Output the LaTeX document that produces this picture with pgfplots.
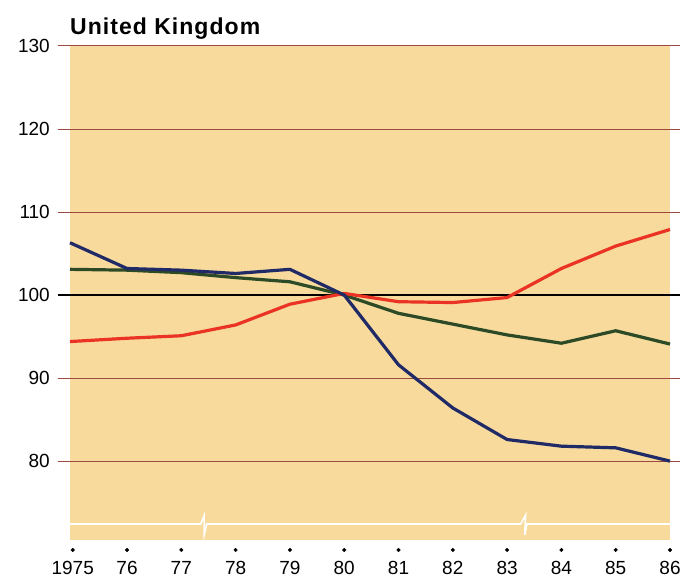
\documentclass[border=0pt]{standalone}
\usepackage{pgfplots}
\pgfplotsset{compat=1.18}
\usepackage{fontspec}
\setmainfont{Liberation Sans}
\definecolor{bg}{HTML}{F7DA9C}
\definecolor{gridc}{HTML}{9A4A40}
\definecolor{ukred}{HTML}{EA3323}
\definecolor{uknavy}{HTML}{1F2A66}
\definecolor{ukgreen}{HTML}{2C4A26}
\begin{document}
\begin{tikzpicture}
\begin{axis}[
 scale only axis, width=600pt, height=494pt,
 xmin=1974.95, xmax=1986, ymin=70.5, ymax=130,
 axis background/.style={fill=bg},
 axis line style={draw=none},
 major tick length=0pt,
 xtick={1975,1976,1977,1978,1979,1980,1981,1982,1983,1984,1985,1986},
 xticklabels={1975,76,77,78,79,80,81,82,83,84,85,86},
 ytick={80,90,100,110,120,130},
 tick label style={font=\fontsize{19}{22}\selectfont, inner sep=0pt},
 yticklabel style={xshift=-20pt},
 xticklabel style={yshift=-21pt},
 /pgf/number format/assume math mode=true,
 clip=false,
]
\pgfplotsinvokeforeach{80,90,110,120,130}{
  \draw[gridc, line width=1pt] ([xshift=-12pt]axis cs:1974.95,#1) -- ([xshift=10pt]axis cs:1986,#1);
}
\draw[black, line width=1.4pt] ([xshift=-12pt]axis cs:1974.95,100) -- ([xshift=10pt]axis cs:1986,100);
% white broken baseline
\draw[white, line width=1.6pt] (axis cs:1974.95,72.43) -- ([xshift=-4pt]axis cs:1977.43,72.43) -- ++(3.5pt,8.5pt) -- ++(0pt,-19.5pt) -- ++(2.5pt,11pt) -- ([xshift=-6pt]axis cs:1983.36,72.43) -- ++(5pt,9pt) -- ++(-1pt,-20pt) -- ++(2.5pt,11pt) -- (axis cs:1986,72.43);
% tick dots
\addplot[only marks, mark=*, mark size=1.8pt, black] coordinates {(1975,69.3) (1976,69.3) (1977,69.3) (1978,69.3) (1979,69.3) (1980,69.3) (1981,69.3) (1982,69.3) (1983,69.3) (1984,69.3) (1985,69.3) (1986,69.3)};
% green
\addplot[ukgreen, line width=3.2pt, line join=round] coordinates {(1974.95,103.1) (1976,103.0) (1977,102.7) (1978,102.1) (1979,101.6) (1980,100.0) (1981,97.8) (1982,96.5) (1983,95.2) (1984,94.2) (1985,95.7) (1986,94.1)};
% red
\addplot[ukred, line width=3.2pt, line join=round] coordinates {(1974.95,94.4) (1976,94.8) (1977,95.1) (1978,96.4) (1979,98.9) (1980,100.2) (1981,99.2) (1982,99.1) (1983,99.7) (1984,103.2) (1985,105.9) (1986,107.9)};
% navy
\addplot[uknavy, line width=3.2pt, line join=round] coordinates {(1974.95,106.3) (1976,103.2) (1977,103.0) (1978,102.6) (1979,103.1) (1980,100.0) (1981,91.6) (1982,86.4) (1983,82.6) (1984,81.8) (1985,81.6) (1986,80.0)};
\node[anchor=base west, inner sep=0pt, font=\fontsize{23}{26}\selectfont\bfseries\addfontfeature{LetterSpace=4.5}] at ([yshift=11.5pt]rel axis cs:0,1) {United Kingdom};
\coordinate (SW) at (rel axis cs:0,0);
\coordinate (NE) at (rel axis cs:1,1);
\end{axis}
\pgfresetboundingbox
\path ([shift={(-70pt,-39pt)}]SW) rectangle ([shift={(10pt,46pt)}]NE);
\end{tikzpicture}
\end{document}
